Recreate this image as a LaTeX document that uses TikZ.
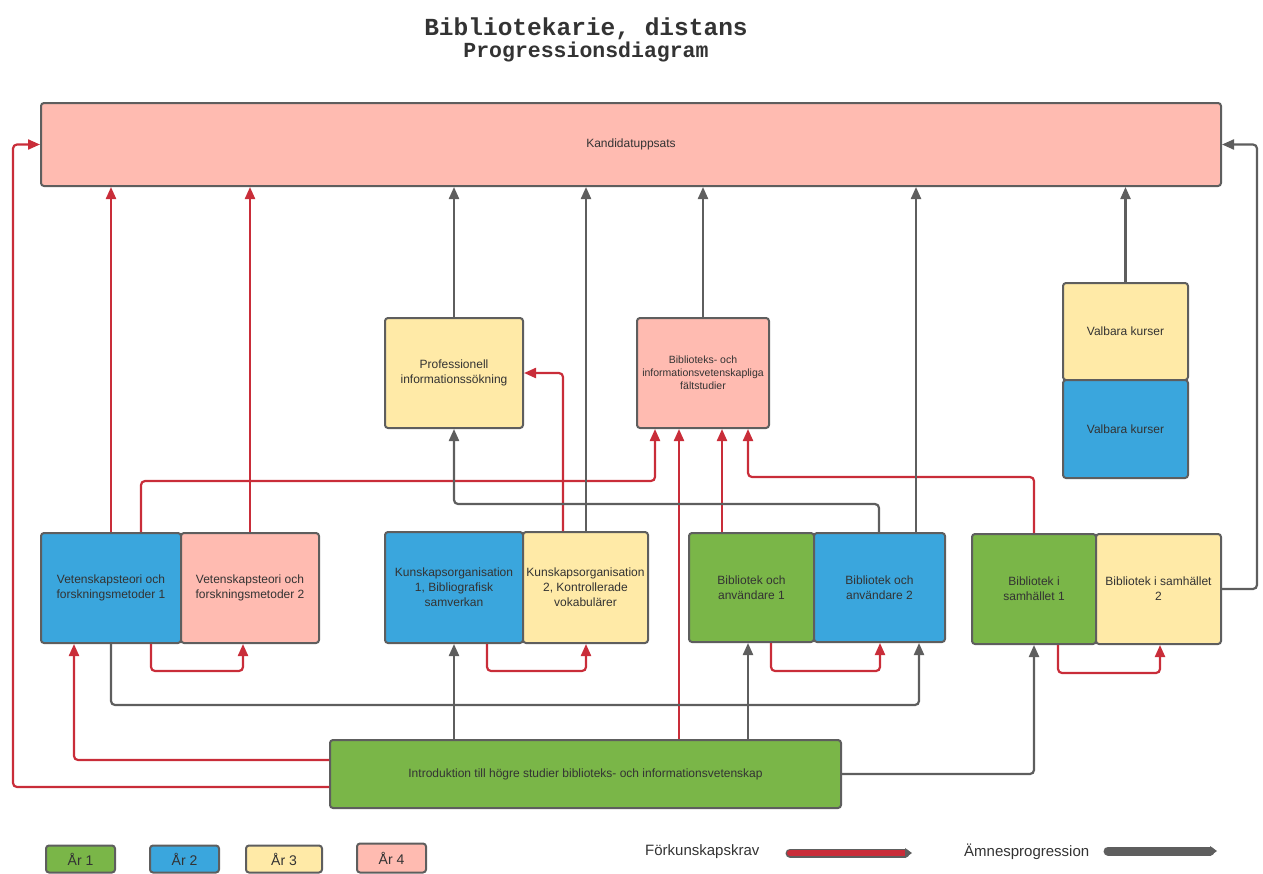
\documentclass[tikz,border=0pt]{standalone}
\usepackage{fontspec}
\setmainfont{Liberation Sans}
\newfontfamily\titlemono{Liberation Mono}
\usetikzlibrary{arrows.meta,calc}
\definecolor{cgreen}{HTML}{7AB648}
\definecolor{cblue}{HTML}{3AA6DD}
\definecolor{cyellow}{HTML}{FFEAA7}
\definecolor{cpink}{HTML}{FFBBB1}
\definecolor{redc}{HTML}{C92D39}
\definecolor{linegray}{HTML}{5E5E5E}
\definecolor{textgray}{HTML}{333333}
\tikzset{
  box/.style={draw=linegray, line width=2pt, rounded corners=3pt, text=textgray,
    align=center, inner sep=2pt, font=\fontsize{12}{15}\selectfont},
  smallbox/.style={box, font=\fontsize{10.5}{13}\selectfont},
  legbox/.style={box, font=\fontsize{14}{16}\selectfont},
  prereq/.style={draw=redc, line width=2.2pt, rounded corners=4pt, -{Triangle[length=12pt,width=10pt]}},
  prog/.style={draw=linegray, line width=2.2pt, rounded corners=4pt, -{Triangle[length=12pt,width=10pt]}},
  legtext/.style={text=textgray, font=\fontsize{15}{17}\selectfont, inner sep=0pt},
}
\begin{document}
\begin{tikzpicture}[x=1pt,y=-1pt]
\useasboundingbox (0,0) rectangle (1263,873);
% title
\node[text=textgray, font=\titlemono\bfseries\fontsize{24.5}{26}\selectfont, inner sep=0pt] (title) at (586,28.5) {Bibliotekarie, distans};
\node[text=textgray, font=\titlemono\bfseries\fontsize{21.5}{23}\selectfont, inner sep=0pt] (subtitle) at (586,51.5) {Progressionsdiagram};
% boxes
\node[box, fill=cpink, minimum width=1180pt, minimum height=83pt] (kand) at (631,144.5) {Kandidatuppsats};
\node[box, fill=cyellow, minimum width=138pt, minimum height=110pt] (prof) at (454,373) {Professionell\\informationssökning};
\node[smallbox, fill=cpink, minimum width=132pt, minimum height=110pt] (falt) at (703,373) {Biblioteks- och\\informationsvetenskapliga\\fältstudier};
\node[box, fill=cyellow, minimum width=125pt, minimum height=97pt] (valy) at (1125.5,331.5) {Valbara kurser};
\node[box, fill=cblue, minimum width=125pt, minimum height=98pt] (valb) at (1125.5,429) {Valbara kurser};
\node[box, fill=cblue, minimum width=140pt, minimum height=110pt] (v1) at (111,588) {Vetenskapsteori och\\forskningsmetoder 1};
\node[box, fill=cpink, minimum width=138pt, minimum height=110pt] (v2) at (250,588) {Vetenskapsteori och\\forskningsmetoder 2};
\node[box, fill=cblue, minimum width=138pt, minimum height=111pt] (k1) at (454,587.5) {Kunskapsorganisation\\1, Bibliografisk\\samverkan};
\node[box, fill=cyellow, minimum width=125pt, minimum height=111pt] (k2) at (585.5,587.5) {Kunskapsorganisation\\2, Kontrollerade\\vokabulärer};
\node[box, fill=cgreen, minimum width=125pt, minimum height=109pt] (ba1) at (751.5,587.5) {Bibliotek och\\användare 1};
\node[box, fill=cblue, minimum width=131pt, minimum height=109pt] (ba2) at (879.5,587.5) {Bibliotek och\\användare 2};
\node[box, fill=cgreen, minimum width=124pt, minimum height=110pt] (bs1) at (1034,589) {Bibliotek i\\samhället 1};
\node[box, fill=cyellow, minimum width=125pt, minimum height=110pt] (bs2) at (1158.5,589) {Bibliotek i samhället\\2};
\node[box, fill=cgreen, minimum width=511pt, minimum height=68pt] (intro) at (585.5,774) {Introduktion till högre studier biblioteks- och informationsvetenskap};
% prerequisite connectors (red)
\draw[prereq] (intro.west |- 0,787) -| (13,0 |- kand.west) -- (kand.west);
\draw[prereq] (intro.west |- 0,760) -| (74,0 |- v1.south);
\draw[prereq] (111,0 |- v1.north) -- (111,0 |- kand.south);
\draw[prereq] (250,0 |- v2.north) -- (250,0 |- kand.south);
\draw[prereq] (141,0 |- v1.north) -- (141,481) -| (655,0 |- falt.south);
\draw[prereq] (151,0 |- v1.south) -- (151,671) -| (243,0 |- v2.south);
\draw[prereq] (563,0 |- k2.north) |- (prof.east);
\draw[prereq] (487,0 |- k1.south) -- (487,671) -| (586,0 |- k2.south);
\draw[prereq] (679,0 |- intro.north) -- (679,0 |- falt.south);
\draw[prereq] (722,0 |- ba1.north) -- (722,0 |- falt.south);
\draw[prereq] (1034,0 |- bs1.north) -- (1034,477) -| (748,0 |- falt.south);
\draw[prereq] (771,0 |- ba1.south) -- (771,671) -| (880,0 |- ba2.south);
\draw[prereq] (1058,0 |- bs1.south) -- (1058,673) -| (1160,0 |- bs2.south);
% progression connectors (gray)
\draw[prog] (prof.north) -- (prof.north |- kand.south);
\draw[prog] (586,0 |- k2.north) -- (586,0 |- kand.south);
\draw[prog] (falt.north) -- (falt.north |- kand.south);
\draw[prog] (916,0 |- ba2.north) -- (916,0 |- kand.south);
\draw[prog] (valy.north) -- (valy.north |- kand.south);
\draw[prog] (bs2.east) -| (1257,0 |- kand.east) -- (kand.east);
\draw[prog] (879,0 |- ba2.north) -- (879,504) -| (prof.south);
\draw[prog] (111,0 |- v1.south) -- (111,705) -| (919,0 |- ba2.south);
\draw[prog] (k1.south |- intro.north) -- (k1.south);
\draw[prog] (748,0 |- intro.north) -- (748,0 |- ba1.south);
\draw[prog] (intro.east) -| (bs1.south);
% legend
\node[legbox, fill=cgreen, minimum width=69pt, minimum height=27pt] (y1) at (80.5,859) {År 1};
\node[legbox, fill=cblue, minimum width=69pt, minimum height=27pt] (y2) at (184.5,859) {År 2};
\node[legbox, fill=cyellow, minimum width=76pt, minimum height=27pt] (y3) at (284,859) {År 3};
\node[legbox, fill=cpink, minimum width=69pt, minimum height=29pt] (y4) at (391.5,858) {År 4};
\node[legtext, anchor=west] (lt1) at (645,852) {Förkunskapskrav};
\node[legtext, anchor=west] (lt2) at (964,852) {Ämnesprogression};
\coordinate (la1) at (790,853);
\coordinate (la2) at (905,853);
\coordinate (lb1) at (1108,851);
\coordinate (lb2) at (1210,851);
\draw[linegray, line width=9pt, line cap=round] (la1) -- (la2);
\draw[redc, line width=6pt, line cap=round] (la1) -- (la2);
\fill[linegray] ($(la2)+(0,-5)$) -- ($(la2)+(7,0)$) -- ($(la2)+(0,5)$) -- cycle;
\draw[linegray, line width=9pt, line cap=round] (lb1) -- (lb2);
\fill[linegray] ($(lb2)+(0,-5)$) -- ($(lb2)+(7,0)$) -- ($(lb2)+(0,5)$) -- cycle;
\end{tikzpicture}
\end{document}
